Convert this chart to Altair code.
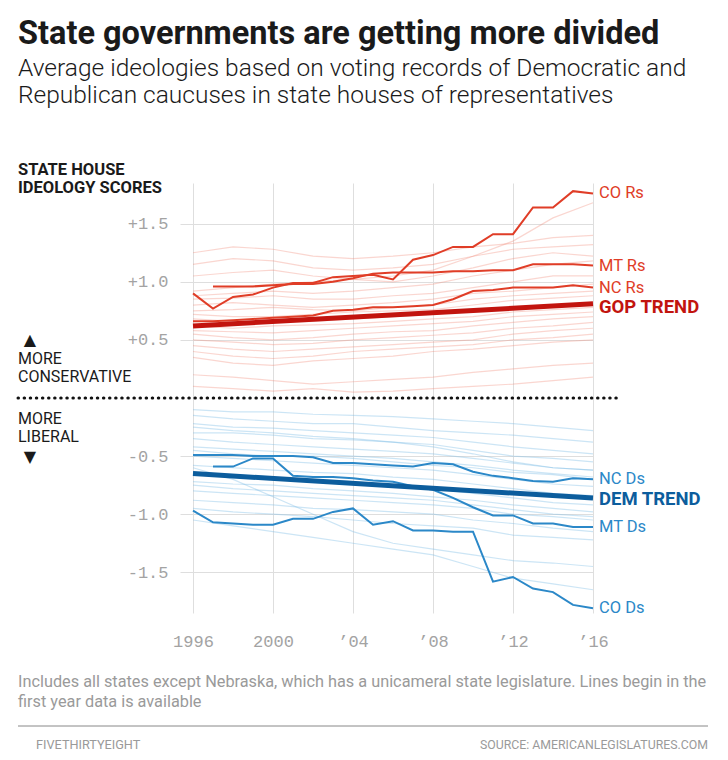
import altair as alt
import pandas as pd

# ---------------- data ----------------
YEARS = list(range(1996, 2017))
YEARS_FROM_97 = list(range(1997, 2017))
FAINT_YEARS = [1996, 1998, 2000, 2002, 2004, 2006, 2008, 2010, 2012, 2014, 2016]

CO_R = [0.90, 0.77, 0.87, 0.89, 0.95, 0.99, 0.99, 1.04, 1.05, 1.06, 1.02,
        1.19, 1.23, 1.30, 1.30, 1.41, 1.41, 1.64, 1.64, 1.78, 1.76]
MT_R = [0.96, 0.96, 0.96, 0.97, 0.98, 0.98, 1.00, 1.03, 1.07, 1.08,
        1.08, 1.08, 1.09, 1.09, 1.10, 1.10, 1.15, 1.15, 1.15, 1.14]
NC_R = [0.66, 0.66, 0.67, 0.68, 0.69, 0.70, 0.71, 0.75, 0.76, 0.78, 0.78,
        0.79, 0.80, 0.85, 0.92, 0.93, 0.95, 0.95, 0.95, 0.97, 0.95]
NC_D = [-0.49, -0.49, -0.49, -0.50, -0.50, -0.50, -0.51, -0.56, -0.56, -0.57, -0.58,
        -0.59, -0.56, -0.57, -0.635, -0.67, -0.69, -0.715, -0.72, -0.69, -0.70]
MT_D = [-0.59, -0.59, -0.52, -0.52, -0.67, -0.68, -0.68, -0.69, -0.71, -0.72,
        -0.76, -0.79, -0.86, -0.94, -1.01, -1.01, -1.08, -1.08, -1.11, -1.11]
CO_D = [-0.97, -1.07, -1.08, -1.09, -1.09, -1.04, -1.04, -0.98, -0.95, -1.09, -1.06,
        -1.14, -1.14, -1.15, -1.15, -1.58, -1.54, -1.64, -1.67, -1.78, -1.81]

TREND_YEARS = [1996, 2016]
GOP_TREND = [0.62, 0.81]
DEM_TREND = [-0.65, -0.86]

FAINT_R = [
    [1.25, 1.30, 1.28, 1.22, 1.20, 1.22, 1.25, 1.30, 1.33, 1.38, 1.40],
    [1.15, 1.20, 1.18, 1.12, 1.10, 1.12, 1.15, 1.22, 1.28, 1.30, 1.32],
    [1.05, 1.08, 1.10, 1.05, 1.02, 1.00, 1.05, 1.12, 1.20, 1.25, 1.22],
    [0.92, 0.95, 0.98, 1.00, 1.02, 1.05, 1.10, 1.22, 1.35, 1.55, 1.68],
    [0.88, 0.90, 0.92, 0.90, 0.92, 0.95, 0.98, 1.05, 1.10, 1.15, 1.18],
    [0.85, 0.86, 0.88, 0.85, 0.85, 0.88, 0.90, 0.95, 1.00, 1.05, 1.05],
    [0.80, 0.82, 0.80, 0.78, 0.80, 0.82, 0.85, 0.90, 0.92, 0.95, 0.98],
    [0.75, 0.76, 0.78, 0.76, 0.75, 0.78, 0.80, 0.85, 0.88, 0.90, 0.92],
    [0.72, 0.70, 0.70, 0.72, 0.74, 0.75, 0.76, 0.80, 0.84, 0.86, 0.88],
    [0.68, 0.66, 0.65, 0.66, 0.68, 0.70, 0.72, 0.75, 0.78, 0.80, 0.82],
    [0.62, 0.60, 0.62, 0.63, 0.64, 0.66, 0.68, 0.70, 0.74, 0.76, 0.78],
    [0.58, 0.57, 0.56, 0.58, 0.60, 0.62, 0.64, 0.66, 0.70, 0.72, 0.74],
    [0.55, 0.52, 0.50, 0.52, 0.55, 0.57, 0.58, 0.62, 0.65, 0.68, 0.70],
    [0.50, 0.48, 0.46, 0.47, 0.50, 0.52, 0.54, 0.56, 0.60, 0.62, 0.65],
    [0.45, 0.42, 0.40, 0.42, 0.44, 0.46, 0.48, 0.50, 0.55, 0.58, 0.60],
    [0.40, 0.36, 0.34, 0.36, 0.40, 0.42, 0.44, 0.46, 0.50, 0.52, 0.55],
    [0.35, 0.30, 0.28, 0.32, 0.34, 0.36, 0.40, 0.42, 0.45, 0.48, 0.50],
    [0.20, 0.18, 0.15, 0.12, 0.14, 0.16, 0.18, 0.22, 0.25, 0.28, 0.30],
    [0.10, 0.08, 0.06, 0.08, 0.05, 0.06, 0.08, 0.10, 0.12, 0.15, 0.18],
]
FAINT_D = [
    [-0.15, -0.18, -0.20, -0.22, -0.22, -0.25, -0.28, -0.30, -0.32, -0.35, -0.38],
    [-0.22, -0.25, -0.26, -0.28, -0.30, -0.32, -0.34, -0.38, -0.42, -0.45, -0.48],
    [-0.30, -0.30, -0.32, -0.35, -0.36, -0.38, -0.40, -0.45, -0.50, -0.52, -0.55],
    [-0.35, -0.38, -0.40, -0.42, -0.44, -0.46, -0.48, -0.52, -0.56, -0.60, -0.62],
    [-0.42, -0.44, -0.46, -0.48, -0.50, -0.52, -0.55, -0.58, -0.62, -0.65, -0.68],
    [-0.50, -0.52, -0.54, -0.56, -0.58, -0.60, -0.62, -0.66, -0.70, -0.74, -0.76],
    [-0.58, -0.60, -0.62, -0.64, -0.65, -0.68, -0.70, -0.74, -0.78, -0.82, -0.84],
    [-0.65, -0.66, -0.68, -0.70, -0.72, -0.75, -0.78, -0.82, -0.86, -0.90, -0.92],
    [-0.72, -0.74, -0.75, -0.78, -0.80, -0.82, -0.85, -0.88, -0.92, -0.95, -0.98],
    [-0.80, -0.82, -0.84, -0.86, -0.88, -0.90, -0.92, -0.95, -1.00, -1.02, -1.05],
    [-0.88, -0.90, -0.92, -0.95, -0.96, -0.98, -1.00, -1.05, -1.08, -1.12, -1.15],
    [-0.95, -0.98, -1.00, -1.02, -1.05, -1.08, -1.10, -1.12, -1.18, -1.20, -1.22],
    [-0.60, -0.70, -0.85, -1.00, -1.15, -1.25, -1.30, -1.35, -1.40, -1.42, -1.45],
    [-1.05, -1.10, -1.15, -1.20, -1.25, -1.30, -1.35, -1.45, -1.55, -1.60, -1.65],
    [-0.45, -0.48, -0.50, -0.50, -0.52, -0.55, -0.58, -0.60, -0.64, -0.66, -0.70],
    [-0.25, -0.28, -0.30, -0.33, -0.35, -0.38, -0.42, -0.48, -0.55, -0.60, -0.62],
    [-0.10, -0.12, -0.12, -0.14, -0.15, -0.16, -0.18, -0.20, -0.22, -0.25, -0.28],
    [-0.75, -0.78, -0.80, -0.82, -0.84, -0.86, -0.88, -0.92, -0.96, -1.00, -1.02],
]

X_TICKS = [1996, 2000, 2004, 2008, 2012, 2016]
X_TICK_LABELS = ["1996", "2000", "\u201904", "\u201908", "\u201912", "\u201916"]
Y_TICKS = [1.5, 1.0, 0.5, -0.5, -1.0, -1.5]
Y_TICK_LABELS = ["+1.5", "+1.0", "+0.5", "-0.5", "-1.0", "-1.5"]

LABELS_R = ["CO Rs", "MT Rs", "NC Rs"]
LABELS_D = ["NC Ds", "MT Ds", "CO Ds"]

# ---------------- frames ----------------
def frame(name, years, values):
    return pd.DataFrame({"series": name, "year": years, "score": values})

faint_r = pd.concat([frame(f"R{i}", FAINT_YEARS, v) for i, v in enumerate(FAINT_R)])
faint_d = pd.concat([frame(f"D{i}", FAINT_YEARS, v) for i, v in enumerate(FAINT_D)])
hi_r = pd.concat([frame("CO Rs", YEARS, CO_R), frame("MT Rs", YEARS_FROM_97, MT_R),
                  frame("NC Rs", YEARS, NC_R)])
hi_d = pd.concat([frame("NC Ds", YEARS, NC_D), frame("MT Ds", YEARS_FROM_97, MT_D),
                  frame("CO Ds", YEARS, CO_D)])
gop = frame("GOP TREND", TREND_YEARS, GOP_TREND)
dem = frame("DEM TREND", TREND_YEARS, DEM_TREND)

lab_r = pd.DataFrame({"label": LABELS_R, "year": 2016, "score": [CO_R[-1], MT_R[-1], NC_R[-1]]})
lab_d = pd.DataFrame({"label": LABELS_D, "year": 2016, "score": [NC_D[-1], MT_D[-1], CO_D[-1]]})
lab_gop = pd.DataFrame({"label": ["GOP TREND"], "year": 2016, "score": [GOP_TREND[-1]]})
lab_dem = pd.DataFrame({"label": ["DEM TREND"], "year": 2016, "score": [DEM_TREND[-1]]})


def label_expr(values, labels):
    expr = "''"
    for v, l in reversed(list(zip(values, labels))):
        expr = f"datum.value == {v} ? '{l}' : ({expr})"
    return expr


GRID = "#dedede"
AXIS_FONT = "Liberation Mono"
x_enc = alt.X("year:Q", scale=alt.Scale(domain=[1996, 2016], nice=False, zero=False),
              axis=alt.Axis(values=X_TICKS, labelExpr=label_expr(X_TICKS, X_TICK_LABELS),
                            grid=True, gridColor=GRID, domain=False, ticks=False,
                            labelFlush=False, labelOverlap=False, labelBound=False,
                            labelPadding=20, labelFont=AXIS_FONT, labelFontSize=17,
                            labelColor="#a3a3a3", title=None))
y_enc = alt.Y("score:Q", scale=alt.Scale(domain=[-1.85, 1.85], nice=False, zero=False),
              axis=alt.Axis(values=Y_TICKS, labelExpr=label_expr(Y_TICKS, Y_TICK_LABELS),
                            grid=True, gridColor=GRID, domain=False, tickSize=13,
                            tickColor=GRID, labelPadding=12, labelFont=AXIS_FONT,
                            labelFlush=False, labelOverlap=False,
                            labelFontSize=17, labelColor="#a3a3a3", title=None))

RED = "#e03d27"
BLUE = "#2b88c8"
GOP_C = "#c2140e"
DEM_C = "#0c5d9d"

layers = []
layers.append(alt.Chart(faint_r).mark_line(color="#f08a78", opacity=0.35, strokeWidth=1.2)
              .encode(x=x_enc, y=y_enc, detail="series:N"))
layers.append(alt.Chart(faint_d).mark_line(color="#7fbfe6", opacity=0.4, strokeWidth=1.2)
              .encode(x=x_enc, y=y_enc, detail="series:N"))
layers.append(alt.Chart(hi_r).mark_line(color=RED, strokeWidth=2)
              .encode(x=x_enc, y=y_enc, detail="series:N"))
layers.append(alt.Chart(hi_d).mark_line(color=BLUE, strokeWidth=2)
              .encode(x=x_enc, y=y_enc, detail="series:N"))
layers.append(alt.Chart(gop).mark_line(color=GOP_C, strokeWidth=5)
              .encode(x=x_enc, y=y_enc))
layers.append(alt.Chart(dem).mark_line(color=DEM_C, strokeWidth=5)
              .encode(x=x_enc, y=y_enc))

# right-side labels
LBL_FONT = "Roboto"
layers.append(alt.Chart(lab_r).mark_text(align="left", baseline="middle", dx=6,
              font=LBL_FONT, fontSize=16.5, color=RED)
              .encode(x=x_enc, y=y_enc, text="label:N"))
layers.append(alt.Chart(lab_d).mark_text(align="left", baseline="middle", dx=6,
              font=LBL_FONT, fontSize=16.5, color=BLUE)
              .encode(x=x_enc, y=y_enc, text="label:N"))
layers.append(alt.Chart(lab_gop).mark_text(align="left", baseline="middle", dx=6, dy=3,
              font=LBL_FONT, fontSize=18.5, fontWeight="bold", color=GOP_C)
              .encode(x=x_enc, y=y_enc, text="label:N"))
layers.append(alt.Chart(lab_dem).mark_text(align="left", baseline="middle", dx=6, dy=1,
              font=LBL_FONT, fontSize=18.5, fontWeight="bold", color=DEM_C)
              .encode(x=x_enc, y=y_enc, text="label:N"))

# dotted zero line (annotation spanning the whole chart width)
layers.append(alt.Chart(alt.Data(values=[{}])).mark_rule(
    color="#111", strokeWidth=3, strokeDash=[0.5, 5.6], strokeCap="round")
    .encode(y=alt.value(215), x=alt.value(-175), x2=alt.value(427)))


def note(text, x, y, size, color="#1a1a1a", weight="normal", font="Roboto",
         align="left", baseline="alphabetic"):
    return alt.Chart(alt.Data(values=[{}])).mark_text(
        align=align, baseline=baseline, font=font, fontSize=size, fontWeight=weight,
        color=color).encode(x=alt.value(x), y=alt.value(y), text=alt.value(text))


# plot origin is at page (193, 183)
layers += [
    note("State governments are getting more divided", -175, -139, 32.5, weight="bold"),
    note("Average ideologies based on voting records of Democratic and", -175, -107, 24.5,
         weight=300),
    note("Republican caucuses in state houses of representatives", -175, -80, 24.5, weight=300),
    note("STATE HOUSE", -175, -8, 16.5, weight="bold"),
    note("IDEOLOGY SCORES", -175, 10, 16.5, weight="bold"),
    note("\u25b2", -163, 157, 16, font="DejaVu Sans", align="center", baseline="middle"),
    note("MORE", -175, 181, 16),
    note("CONSERVATIVE", -175, 199, 16),
    note("MORE", -175, 241, 16),
    note("LIBERAL", -175, 259, 16),
    note("\u25bc", -163, 274, 16, font="DejaVu Sans", align="center", baseline="middle"),
    note("Includes all states except Nebraska, which has a unicameral state legislature. "
         "Lines begin in the", -175, 504, 16.3, color="#9a9a9a"),
    note("first year data is available", -175, 524, 16.3, color="#9a9a9a"),
    note("FIVETHIRTYEIGHT", -157, 566, 12.7, color="#9a9a9a"),
    note("SOURCE: AMERICANLEGISLATURES.COM", 515, 566, 12.3, color="#9a9a9a", align="right"),
]
layers.append(alt.Chart(alt.Data(values=[{}])).mark_rule(color="#888", strokeWidth=1)
              .encode(y=alt.value(543), x=alt.value(-175), x2=alt.value(515)))

chart = alt.layer(*layers).properties(
    width=400, height=430,
    autosize=alt.AutoSizeParams(type="none"),
    padding={"left": 185, "top": 175, "right": 127, "bottom": 139},
    background="white",
).configure_view(stroke=None)

chart.save("out.html", embed_options={"renderer": "svg", "actions": False})
